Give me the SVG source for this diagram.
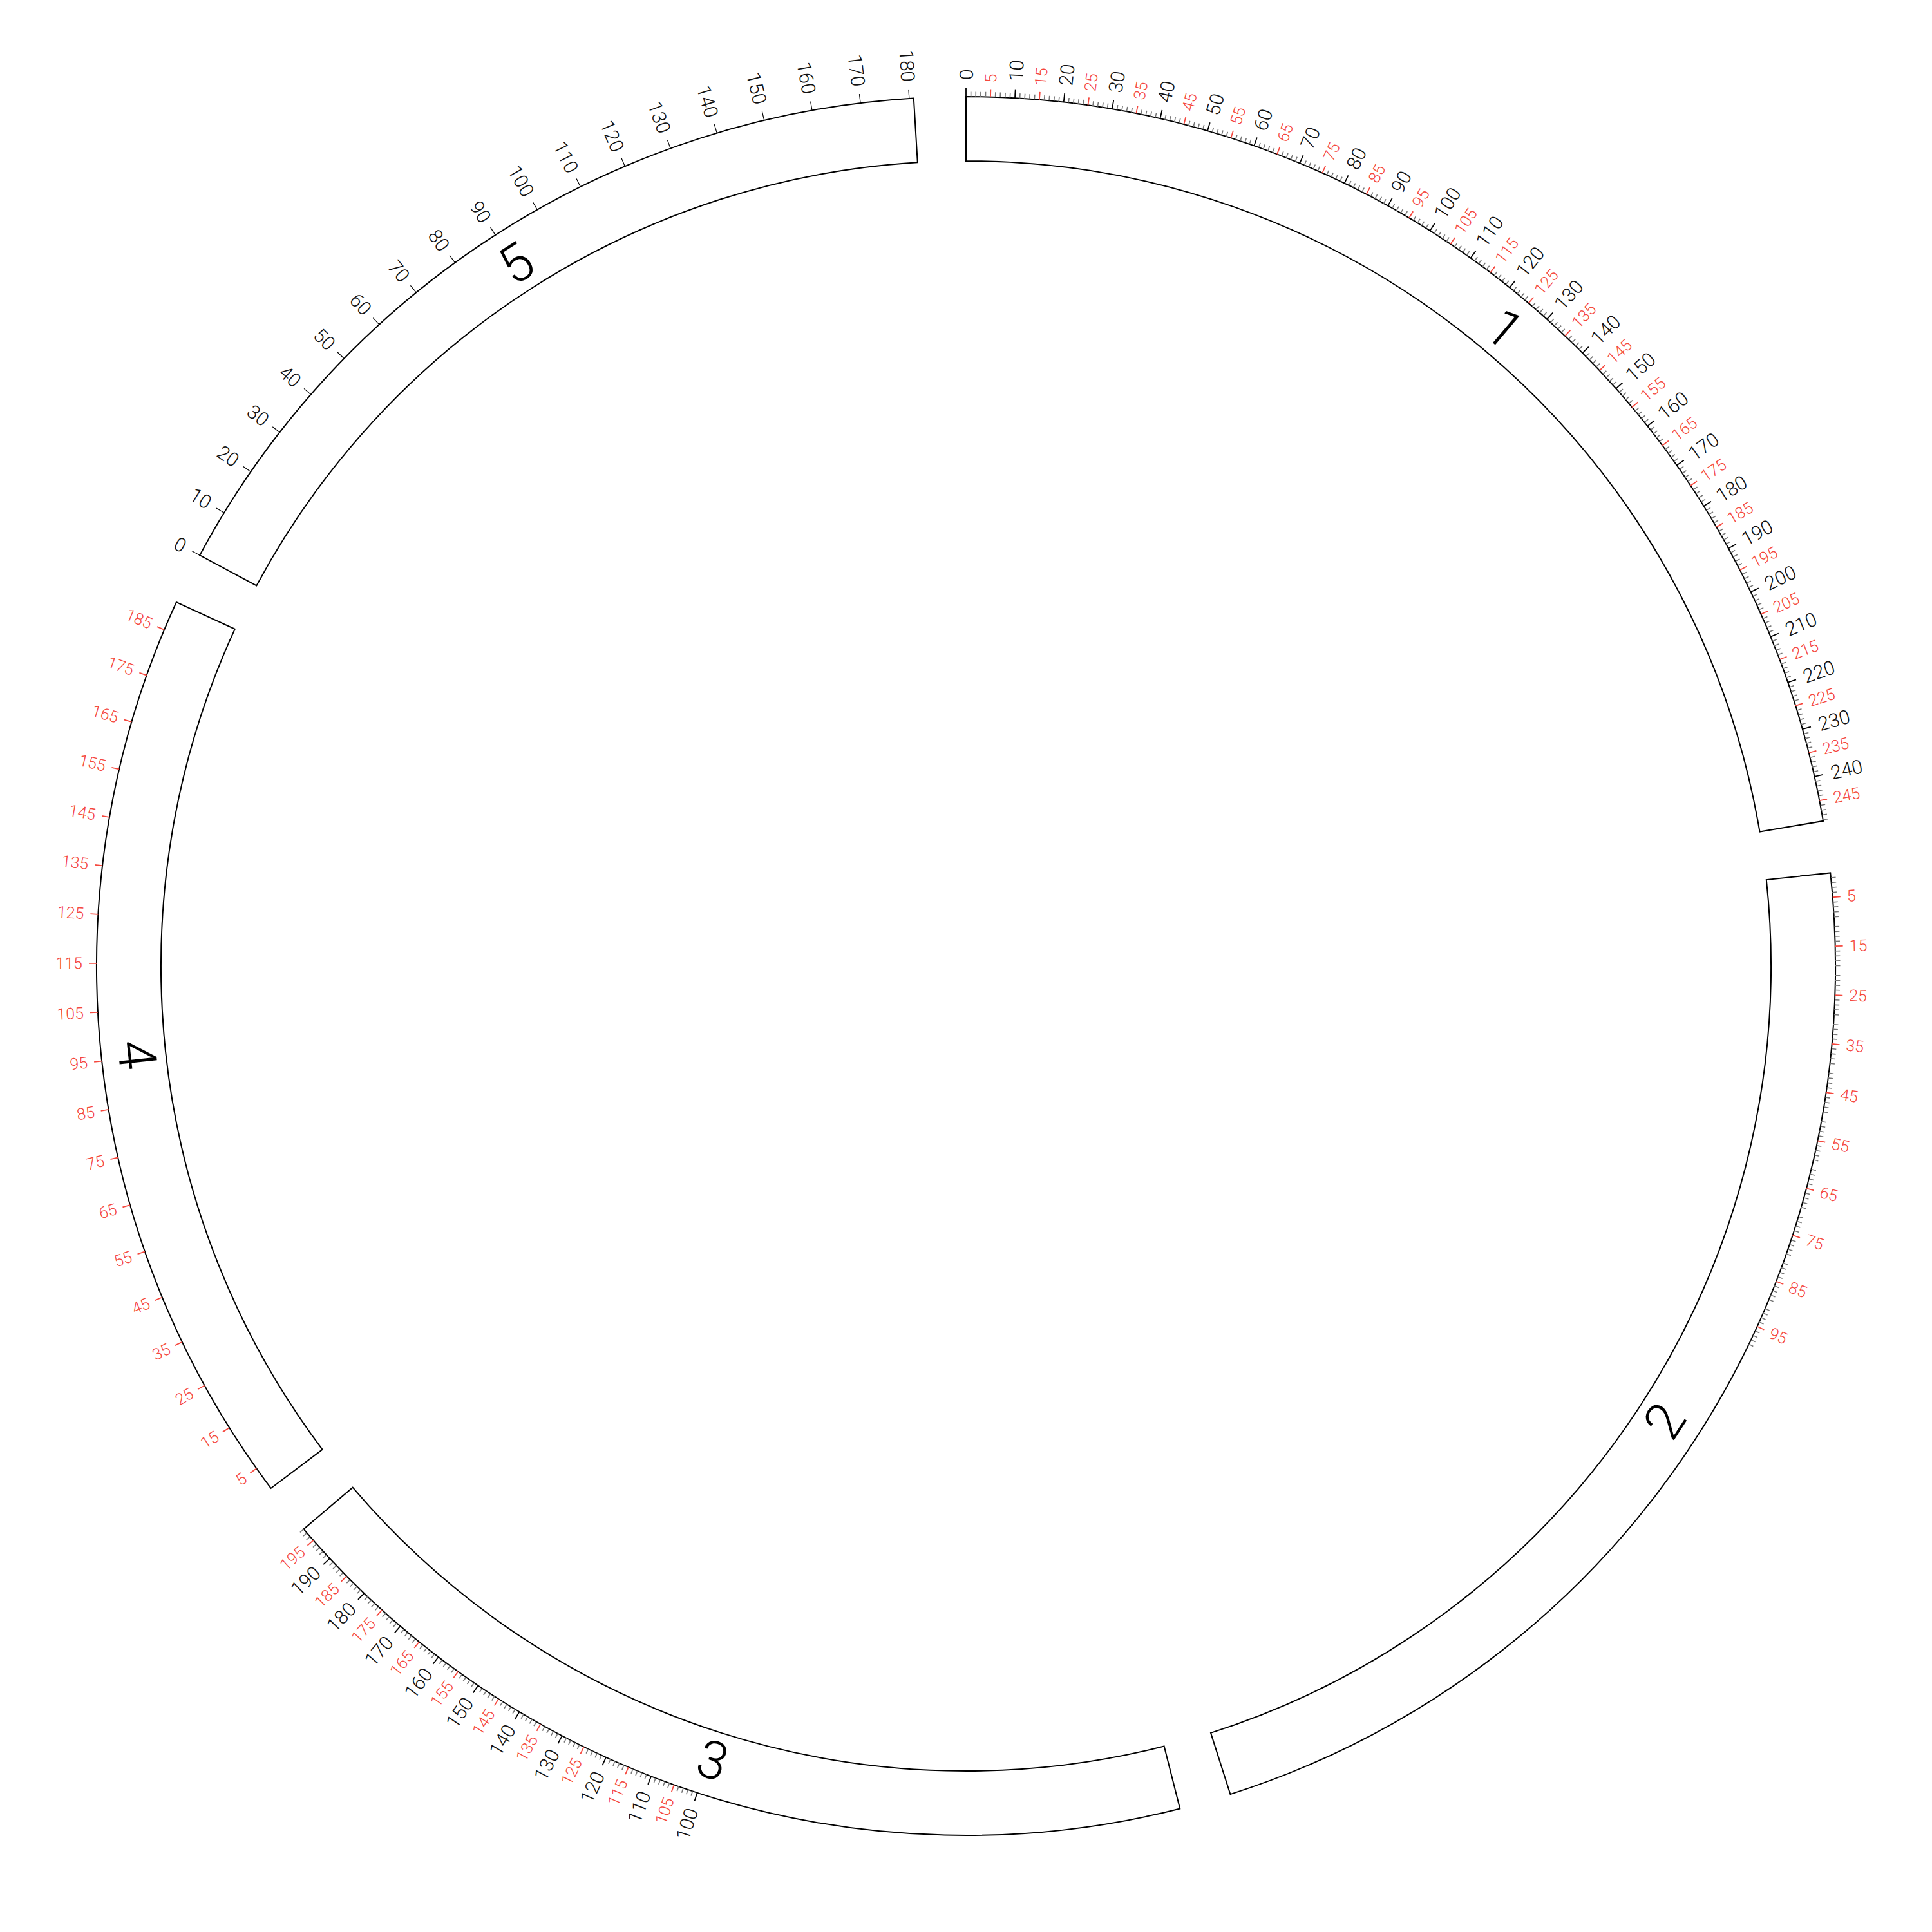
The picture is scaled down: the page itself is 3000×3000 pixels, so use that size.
<svg xmlns="http://www.w3.org/2000/svg" xmlns:xlink="http://www.w3.org/1999/xlink" width="3000" height="3000" viewBox="0 0 3000 3000">
<style>
.seg{fill:#fff;stroke:#000;stroke-width:2}
.tm{stroke:#777;stroke-width:1.6}
.tr{stroke:#f5483e;stroke-width:1.8}
.tb{stroke:#000;stroke-width:1.8}
.tb5{stroke:#000;stroke-width:1.2}
text{font-family:Roboto,"DejaVu Sans","Liberation Sans",sans-serif;dominant-baseline:central}
.lb{font-size:30px;font-weight:300;fill:#111}
.lr{font-size:25px;font-weight:300;fill:#f5483e}
.L text{text-anchor:end}
.big{font-size:82px;font-weight:300;fill:#000;text-anchor:middle}
</style>
<defs>
<line id="mn" class="tm" x1="1500" y1="150" x2="1500" y2="142.5"/>
<line id="rd" class="tr" x1="1500" y1="150" x2="1500" y2="138"/>
<line id="bk" class="tb" x1="1500" y1="150" x2="1500" y2="136.5"/>
<line id="bk5" class="tb5" x1="1500" y1="150" x2="1500" y2="136"/>
<g id="dec8">
<use href="#mn" transform="rotate(0.32257 1500 1500)"/>
<use href="#mn" transform="rotate(0.64514 1500 1500)"/>
<use href="#mn" transform="rotate(0.96771 1500 1500)"/>
<use href="#mn" transform="rotate(1.29028 1500 1500)"/>
<use href="#rd" transform="rotate(1.61285 1500 1500)"/>
<use href="#mn" transform="rotate(1.93542 1500 1500)"/>
<use href="#mn" transform="rotate(2.25799 1500 1500)"/>
<use href="#mn" transform="rotate(2.58056 1500 1500)"/>
</g>
<g id="dec">
<use href="#dec8"/>
<use href="#mn" transform="rotate(2.90313 1500 1500)"/>
</g>
<g id="decB">
<use href="#bk"/>
<use href="#dec"/>
</g>
</defs>
<rect width="3000" height="3000" fill="#fff"/>

<g id="chr1">
<path class="seg" d="M1500,150 A1350,1350 0 0 1 2831.10,1274.86 L2732.50,1291.54 A1250,1250 0 0 0 1500,250 Z"/>
<g class="ticks">
<use href="#decB"/>
<use href="#decB" transform="rotate(3.2257 1500 1500)"/>
<use href="#decB" transform="rotate(6.4514 1500 1500)"/>
<use href="#decB" transform="rotate(9.6771 1500 1500)"/>
<use href="#decB" transform="rotate(12.9028 1500 1500)"/>
<use href="#decB" transform="rotate(16.1285 1500 1500)"/>
<use href="#decB" transform="rotate(19.3542 1500 1500)"/>
<use href="#decB" transform="rotate(22.5799 1500 1500)"/>
<use href="#decB" transform="rotate(25.8056 1500 1500)"/>
<use href="#decB" transform="rotate(29.0313 1500 1500)"/>
<use href="#decB" transform="rotate(32.257 1500 1500)"/>
<use href="#decB" transform="rotate(35.4827 1500 1500)"/>
<use href="#decB" transform="rotate(38.7084 1500 1500)"/>
<use href="#decB" transform="rotate(41.9341 1500 1500)"/>
<use href="#decB" transform="rotate(45.1598 1500 1500)"/>
<use href="#decB" transform="rotate(48.3855 1500 1500)"/>
<use href="#decB" transform="rotate(51.6112 1500 1500)"/>
<use href="#decB" transform="rotate(54.8369 1500 1500)"/>
<use href="#decB" transform="rotate(58.0626 1500 1500)"/>
<use href="#decB" transform="rotate(61.2883 1500 1500)"/>
<use href="#decB" transform="rotate(64.514 1500 1500)"/>
<use href="#decB" transform="rotate(67.7397 1500 1500)"/>
<use href="#decB" transform="rotate(70.9654 1500 1500)"/>
<use href="#decB" transform="rotate(74.1911 1500 1500)"/>
<use href="#decB" transform="rotate(77.4168 1500 1500)"/>
</g>
<g class="R">
<text class="lb" transform="rotate(0 1500 1500) translate(1500 124) rotate(-90)">0</text>
<text class="lr" transform="rotate(1.613 1500 1500) translate(1500 128) rotate(-90)">5</text>
<text class="lb" transform="rotate(3.226 1500 1500) translate(1500 124) rotate(-90)">10</text>
<text class="lr" transform="rotate(4.839 1500 1500) translate(1500 128) rotate(-90)">15</text>
<text class="lb" transform="rotate(6.451 1500 1500) translate(1500 124) rotate(-90)">20</text>
<text class="lr" transform="rotate(8.064 1500 1500) translate(1500 128) rotate(-90)">25</text>
<text class="lb" transform="rotate(9.677 1500 1500) translate(1500 124) rotate(-90)">30</text>
<text class="lr" transform="rotate(11.290 1500 1500) translate(1500 128) rotate(-90)">35</text>
<text class="lb" transform="rotate(12.903 1500 1500) translate(1500 124) rotate(-90)">40</text>
<text class="lr" transform="rotate(14.516 1500 1500) translate(1500 128) rotate(-90)">45</text>
<text class="lb" transform="rotate(16.129 1500 1500) translate(1500 124) rotate(-90)">50</text>
<text class="lr" transform="rotate(17.741 1500 1500) translate(1500 128) rotate(-90)">55</text>
<text class="lb" transform="rotate(19.354 1500 1500) translate(1500 124) rotate(-90)">60</text>
<text class="lr" transform="rotate(20.967 1500 1500) translate(1500 128) rotate(-90)">65</text>
<text class="lb" transform="rotate(22.580 1500 1500) translate(1500 124) rotate(-90)">70</text>
<text class="lr" transform="rotate(24.193 1500 1500) translate(1500 128) rotate(-90)">75</text>
<text class="lb" transform="rotate(25.806 1500 1500) translate(1500 124) rotate(-90)">80</text>
<text class="lr" transform="rotate(27.418 1500 1500) translate(1500 128) rotate(-90)">85</text>
<text class="lb" transform="rotate(29.031 1500 1500) translate(1500 124) rotate(-90)">90</text>
<text class="lr" transform="rotate(30.644 1500 1500) translate(1500 128) rotate(-90)">95</text>
<text class="lb" transform="rotate(32.257 1500 1500) translate(1500 124) rotate(-90)">100</text>
<text class="lr" transform="rotate(33.870 1500 1500) translate(1500 128) rotate(-90)">105</text>
<text class="lb" transform="rotate(35.483 1500 1500) translate(1500 124) rotate(-90)">110</text>
<text class="lr" transform="rotate(37.096 1500 1500) translate(1500 128) rotate(-90)">115</text>
<text class="lb" transform="rotate(38.708 1500 1500) translate(1500 124) rotate(-90)">120</text>
<text class="lr" transform="rotate(40.321 1500 1500) translate(1500 128) rotate(-90)">125</text>
<text class="lb" transform="rotate(41.934 1500 1500) translate(1500 124) rotate(-90)">130</text>
<text class="lr" transform="rotate(43.547 1500 1500) translate(1500 128) rotate(-90)">135</text>
<text class="lb" transform="rotate(45.160 1500 1500) translate(1500 124) rotate(-90)">140</text>
<text class="lr" transform="rotate(46.773 1500 1500) translate(1500 128) rotate(-90)">145</text>
<text class="lb" transform="rotate(48.386 1500 1500) translate(1500 124) rotate(-90)">150</text>
<text class="lr" transform="rotate(49.998 1500 1500) translate(1500 128) rotate(-90)">155</text>
<text class="lb" transform="rotate(51.611 1500 1500) translate(1500 124) rotate(-90)">160</text>
<text class="lr" transform="rotate(53.224 1500 1500) translate(1500 128) rotate(-90)">165</text>
<text class="lb" transform="rotate(54.837 1500 1500) translate(1500 124) rotate(-90)">170</text>
<text class="lr" transform="rotate(56.450 1500 1500) translate(1500 128) rotate(-90)">175</text>
<text class="lb" transform="rotate(58.063 1500 1500) translate(1500 124) rotate(-90)">180</text>
<text class="lr" transform="rotate(59.675 1500 1500) translate(1500 128) rotate(-90)">185</text>
<text class="lb" transform="rotate(61.288 1500 1500) translate(1500 124) rotate(-90)">190</text>
<text class="lr" transform="rotate(62.901 1500 1500) translate(1500 128) rotate(-90)">195</text>
<text class="lb" transform="rotate(64.514 1500 1500) translate(1500 124) rotate(-90)">200</text>
<text class="lr" transform="rotate(66.127 1500 1500) translate(1500 128) rotate(-90)">205</text>
<text class="lb" transform="rotate(67.740 1500 1500) translate(1500 124) rotate(-90)">210</text>
<text class="lr" transform="rotate(69.353 1500 1500) translate(1500 128) rotate(-90)">215</text>
<text class="lb" transform="rotate(70.965 1500 1500) translate(1500 124) rotate(-90)">220</text>
<text class="lr" transform="rotate(72.578 1500 1500) translate(1500 128) rotate(-90)">225</text>
<text class="lb" transform="rotate(74.191 1500 1500) translate(1500 124) rotate(-90)">230</text>
<text class="lr" transform="rotate(75.804 1500 1500) translate(1500 128) rotate(-90)">235</text>
<text class="lb" transform="rotate(77.417 1500 1500) translate(1500 124) rotate(-90)">240</text>
<text class="lr" transform="rotate(79.030 1500 1500) translate(1500 128) rotate(-90)">245</text>
</g>
<text class="big" x="1500" y="205" transform="rotate(40.200 1500 1500)">1</text>
</g>

<g id="chr2">
<path class="seg" d="M2842.24,1355.42 A1350,1350 0 0 1 1910.42,2786.10 L1880.02,2690.83 A1250,1250 0 0 0 2742.81,1366.13 Z"/>
<g class="ticks" transform="rotate(83.852 1500 1500)">
<use href="#dec"/>
<use href="#dec" transform="rotate(3.2257 1500 1500)"/>
<use href="#dec" transform="rotate(6.4514 1500 1500)"/>
<use href="#dec" transform="rotate(9.6771 1500 1500)"/>
<use href="#dec" transform="rotate(12.9028 1500 1500)"/>
<use href="#dec" transform="rotate(16.1285 1500 1500)"/>
<use href="#dec" transform="rotate(19.3542 1500 1500)"/>
<use href="#dec" transform="rotate(22.5799 1500 1500)"/>
<use href="#dec" transform="rotate(25.8056 1500 1500)"/>
<use href="#dec" transform="rotate(29.0313 1500 1500)"/>
</g>
<g class="R" transform="rotate(83.852 1500 1500)">
<text class="lr" transform="rotate(1.613 1500 1500) translate(1500 128) rotate(-90)">5</text>
<text class="lr" transform="rotate(4.839 1500 1500) translate(1500 128) rotate(-90)">15</text>
<text class="lr" transform="rotate(8.064 1500 1500) translate(1500 128) rotate(-90)">25</text>
<text class="lr" transform="rotate(11.290 1500 1500) translate(1500 128) rotate(-90)">35</text>
<text class="lr" transform="rotate(14.516 1500 1500) translate(1500 128) rotate(-90)">45</text>
<text class="lr" transform="rotate(17.741 1500 1500) translate(1500 128) rotate(-90)">55</text>
<text class="lr" transform="rotate(20.967 1500 1500) translate(1500 128) rotate(-90)">65</text>
<text class="lr" transform="rotate(24.193 1500 1500) translate(1500 128) rotate(-90)">75</text>
<text class="lr" transform="rotate(27.418 1500 1500) translate(1500 128) rotate(-90)">85</text>
<text class="lr" transform="rotate(30.644 1500 1500) translate(1500 128) rotate(-90)">95</text>
</g>
<text class="big" x="1500" y="205" transform="rotate(123.077 1500 1500) rotate(180 1500 205)">2</text>
</g>

<g id="chr3">
<path class="seg" d="M1832.24,2808.48 A1350,1350 0 0 1 471.48,2374.44 L547.67,2309.67 A1250,1250 0 0 0 1807.63,2711.55 Z"/>
<g class="ticks" transform="rotate(165.753 1500 1500)">
<use href="#decB" transform="rotate(32.257 1500 1500)"/>
<use href="#decB" transform="rotate(35.4827 1500 1500)"/>
<use href="#decB" transform="rotate(38.7084 1500 1500)"/>
<use href="#decB" transform="rotate(41.9341 1500 1500)"/>
<use href="#decB" transform="rotate(45.1598 1500 1500)"/>
<use href="#decB" transform="rotate(48.3855 1500 1500)"/>
<use href="#decB" transform="rotate(51.6112 1500 1500)"/>
<use href="#decB" transform="rotate(54.8369 1500 1500)"/>
<use href="#decB" transform="rotate(58.0626 1500 1500)"/>
<use href="#bk" transform="rotate(61.2883 1500 1500)"/>
<use href="#dec8" transform="rotate(61.2883 1500 1500)"/>
</g>
<g class="L" transform="rotate(165.753 1500 1500)">
<text class="lb" transform="rotate(32.257 1500 1500) translate(1500 124) rotate(90)">100</text>
<text class="lr" transform="rotate(33.870 1500 1500) translate(1500 128) rotate(90)">105</text>
<text class="lb" transform="rotate(35.483 1500 1500) translate(1500 124) rotate(90)">110</text>
<text class="lr" transform="rotate(37.096 1500 1500) translate(1500 128) rotate(90)">115</text>
<text class="lb" transform="rotate(38.708 1500 1500) translate(1500 124) rotate(90)">120</text>
<text class="lr" transform="rotate(40.321 1500 1500) translate(1500 128) rotate(90)">125</text>
<text class="lb" transform="rotate(41.934 1500 1500) translate(1500 124) rotate(90)">130</text>
<text class="lr" transform="rotate(43.547 1500 1500) translate(1500 128) rotate(90)">135</text>
<text class="lb" transform="rotate(45.160 1500 1500) translate(1500 124) rotate(90)">140</text>
<text class="lr" transform="rotate(46.773 1500 1500) translate(1500 128) rotate(90)">145</text>
<text class="lb" transform="rotate(48.386 1500 1500) translate(1500 124) rotate(90)">150</text>
<text class="lr" transform="rotate(49.998 1500 1500) translate(1500 128) rotate(90)">155</text>
<text class="lb" transform="rotate(51.611 1500 1500) translate(1500 124) rotate(90)">160</text>
<text class="lr" transform="rotate(53.224 1500 1500) translate(1500 128) rotate(90)">165</text>
<text class="lb" transform="rotate(54.837 1500 1500) translate(1500 124) rotate(90)">170</text>
<text class="lr" transform="rotate(56.450 1500 1500) translate(1500 128) rotate(90)">175</text>
<text class="lb" transform="rotate(58.063 1500 1500) translate(1500 124) rotate(90)">180</text>
<text class="lr" transform="rotate(59.675 1500 1500) translate(1500 128) rotate(90)">185</text>
<text class="lb" transform="rotate(61.288 1500 1500) translate(1500 124) rotate(90)">190</text>
<text class="lr" transform="rotate(62.901 1500 1500) translate(1500 128) rotate(90)">195</text>
</g>
<text class="big" x="1500" y="205" transform="rotate(197.691 1500 1500) rotate(180 1500 205)">3</text>
</g>

<g id="chr4">
<path class="seg" d="M420.69,2310.93 A1350,1350 0 0 1 273.91,935.00 L364.73,976.85 A1250,1250 0 0 0 500.64,2250.86 Z"/>
<g class="ticks" transform="rotate(233.081 1500 1500)">
<use href="#rd" transform="rotate(1.61285 1500 1500)"/>
<use href="#rd" transform="rotate(4.83855 1500 1500)"/>
<use href="#rd" transform="rotate(8.06425 1500 1500)"/>
<use href="#rd" transform="rotate(11.28995 1500 1500)"/>
<use href="#rd" transform="rotate(14.51565 1500 1500)"/>
<use href="#rd" transform="rotate(17.74135 1500 1500)"/>
<use href="#rd" transform="rotate(20.96705 1500 1500)"/>
<use href="#rd" transform="rotate(24.19275 1500 1500)"/>
<use href="#rd" transform="rotate(27.41845 1500 1500)"/>
<use href="#rd" transform="rotate(30.64415 1500 1500)"/>
<use href="#rd" transform="rotate(33.86985 1500 1500)"/>
<use href="#rd" transform="rotate(37.09555 1500 1500)"/>
<use href="#rd" transform="rotate(40.32125 1500 1500)"/>
<use href="#rd" transform="rotate(43.54695 1500 1500)"/>
<use href="#rd" transform="rotate(46.77265 1500 1500)"/>
<use href="#rd" transform="rotate(49.99835 1500 1500)"/>
<use href="#rd" transform="rotate(53.22405 1500 1500)"/>
<use href="#rd" transform="rotate(56.44975 1500 1500)"/>
<use href="#rd" transform="rotate(59.67545 1500 1500)"/>
</g>
<g class="L" transform="rotate(233.081 1500 1500)">
<text class="lr" transform="rotate(1.613 1500 1500) translate(1500 128) rotate(90)">5</text>
<text class="lr" transform="rotate(4.839 1500 1500) translate(1500 128) rotate(90)">15</text>
<text class="lr" transform="rotate(8.064 1500 1500) translate(1500 128) rotate(90)">25</text>
<text class="lr" transform="rotate(11.290 1500 1500) translate(1500 128) rotate(90)">35</text>
<text class="lr" transform="rotate(14.516 1500 1500) translate(1500 128) rotate(90)">45</text>
<text class="lr" transform="rotate(17.741 1500 1500) translate(1500 128) rotate(90)">55</text>
<text class="lr" transform="rotate(20.967 1500 1500) translate(1500 128) rotate(90)">65</text>
<text class="lr" transform="rotate(24.193 1500 1500) translate(1500 128) rotate(90)">75</text>
<text class="lr" transform="rotate(27.418 1500 1500) translate(1500 128) rotate(90)">85</text>
<text class="lr" transform="rotate(30.644 1500 1500) translate(1500 128) rotate(90)">95</text>
<text class="lr" transform="rotate(33.870 1500 1500) translate(1500 128) rotate(90)">105</text>
<text class="lr" transform="rotate(37.096 1500 1500) translate(1500 128) rotate(90)">115</text>
<text class="lr" transform="rotate(40.321 1500 1500) translate(1500 128) rotate(90)">125</text>
<text class="lr" transform="rotate(43.547 1500 1500) translate(1500 128) rotate(90)">135</text>
<text class="lr" transform="rotate(46.773 1500 1500) translate(1500 128) rotate(90)">145</text>
<text class="lr" transform="rotate(49.998 1500 1500) translate(1500 128) rotate(90)">155</text>
<text class="lr" transform="rotate(53.224 1500 1500) translate(1500 128) rotate(90)">165</text>
<text class="lr" transform="rotate(56.450 1500 1500) translate(1500 128) rotate(90)">175</text>
<text class="lr" transform="rotate(59.675 1500 1500) translate(1500 128) rotate(90)">185</text>
</g>
<text class="big" x="1500" y="205" transform="rotate(263.911 1500 1500) rotate(180 1500 205)">4</text>
</g>

<g id="chr5">
<path class="seg" d="M310.15,862.20 A1350,1350 0 0 1 1418.78,152.45 L1424.80,252.26 A1250,1250 0 0 0 398.29,909.44 Z"/>
<g class="ticks" transform="rotate(298.193 1500 1500)">
<use href="#bk5"/>
<use href="#bk5" transform="rotate(3.2257 1500 1500)"/>
<use href="#bk5" transform="rotate(6.4514 1500 1500)"/>
<use href="#bk5" transform="rotate(9.6771 1500 1500)"/>
<use href="#bk5" transform="rotate(12.9028 1500 1500)"/>
<use href="#bk5" transform="rotate(16.1285 1500 1500)"/>
<use href="#bk5" transform="rotate(19.3542 1500 1500)"/>
<use href="#bk5" transform="rotate(22.5799 1500 1500)"/>
<use href="#bk5" transform="rotate(25.8056 1500 1500)"/>
<use href="#bk5" transform="rotate(29.0313 1500 1500)"/>
<use href="#bk5" transform="rotate(32.257 1500 1500)"/>
<use href="#bk5" transform="rotate(35.4827 1500 1500)"/>
<use href="#bk5" transform="rotate(38.7084 1500 1500)"/>
<use href="#bk5" transform="rotate(41.9341 1500 1500)"/>
<use href="#bk5" transform="rotate(45.1598 1500 1500)"/>
<use href="#bk5" transform="rotate(48.3855 1500 1500)"/>
<use href="#bk5" transform="rotate(51.6112 1500 1500)"/>
<use href="#bk5" transform="rotate(54.8369 1500 1500)"/>
<use href="#bk5" transform="rotate(58.0626 1500 1500)"/>
</g>
<g class="L" transform="rotate(298.193 1500 1500)">
<text class="lb" transform="rotate(0 1500 1500) translate(1500 124) rotate(90)">0</text>
<text class="lb" transform="rotate(3.226 1500 1500) translate(1500 124) rotate(90)">10</text>
<text class="lb" transform="rotate(6.451 1500 1500) translate(1500 124) rotate(90)">20</text>
<text class="lb" transform="rotate(9.677 1500 1500) translate(1500 124) rotate(90)">30</text>
<text class="lb" transform="rotate(12.903 1500 1500) translate(1500 124) rotate(90)">40</text>
<text class="lb" transform="rotate(16.129 1500 1500) translate(1500 124) rotate(90)">50</text>
<text class="lb" transform="rotate(19.354 1500 1500) translate(1500 124) rotate(90)">60</text>
<text class="lb" transform="rotate(22.580 1500 1500) translate(1500 124) rotate(90)">70</text>
<text class="lb" transform="rotate(25.806 1500 1500) translate(1500 124) rotate(90)">80</text>
<text class="lb" transform="rotate(29.031 1500 1500) translate(1500 124) rotate(90)">90</text>
<text class="lb" transform="rotate(32.257 1500 1500) translate(1500 124) rotate(90)">100</text>
<text class="lb" transform="rotate(35.483 1500 1500) translate(1500 124) rotate(90)">110</text>
<text class="lb" transform="rotate(38.708 1500 1500) translate(1500 124) rotate(90)">120</text>
<text class="lb" transform="rotate(41.934 1500 1500) translate(1500 124) rotate(90)">130</text>
<text class="lb" transform="rotate(45.160 1500 1500) translate(1500 124) rotate(90)">140</text>
<text class="lb" transform="rotate(48.386 1500 1500) translate(1500 124) rotate(90)">150</text>
<text class="lb" transform="rotate(51.611 1500 1500) translate(1500 124) rotate(90)">160</text>
<text class="lb" transform="rotate(54.837 1500 1500) translate(1500 124) rotate(90)">170</text>
<text class="lb" transform="rotate(58.063 1500 1500) translate(1500 124) rotate(90)">180</text>
</g>
<text class="big" x="1500" y="205" transform="rotate(327.372 1500 1500)">5</text>
</g>

<g id="connectors"/>
</svg>
